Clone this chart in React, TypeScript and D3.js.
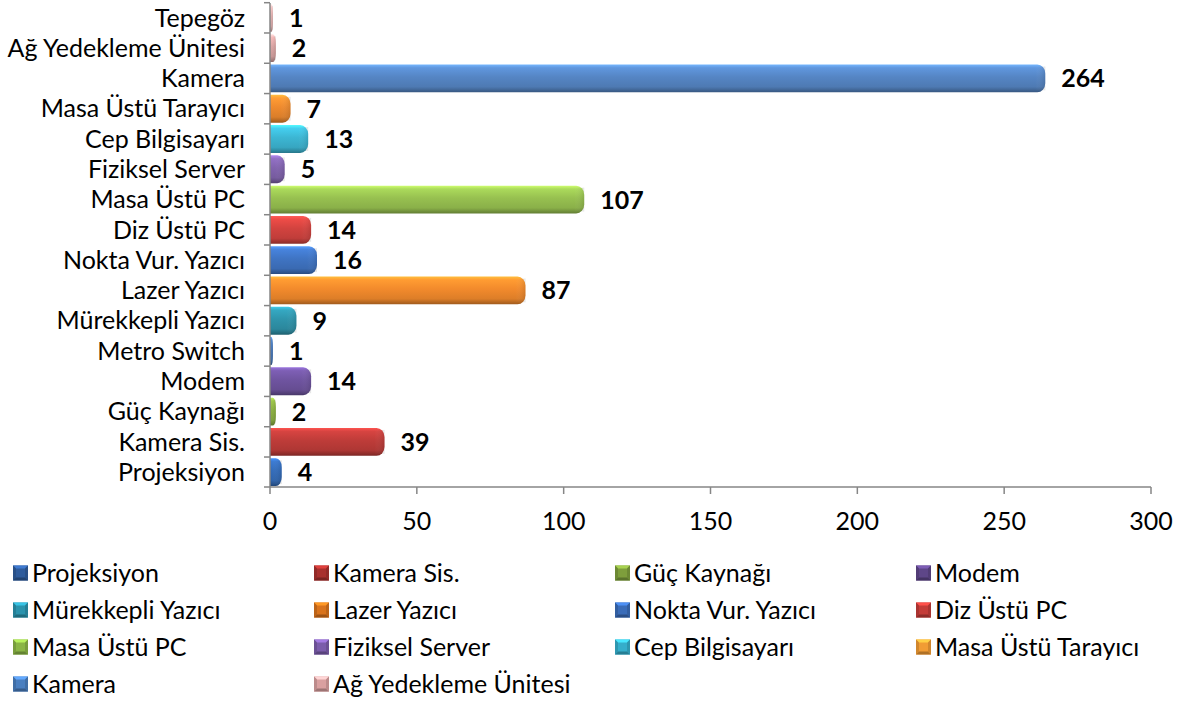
import React from "react";
import * as d3 from "d3";

// kategoriler yukarıdan aşağıya
const categories = [
	"Tepegöz",
	"Ağ Yedekleme Ünitesi",
	"Kamera",
	"Masa Üstü Tarayıcı",
	"Cep Bilgisayarı",
	"Fiziksel Server",
	"Masa Üstü PC",
	"Diz Üstü PC",
	"Nokta Vur. Yazıcı",
	"Lazer Yazıcı",
	"Mürekkepli Yazıcı",
	"Metro Switch",
	"Modem",
	"Güç Kaynağı",
	"Kamera Sis.",
	"Projeksiyon",
];
const values = [1, 2, 264, 7, 13, 5, 107, 14, 16, 87, 9, 1, 14, 2, 39, 4];
const barColors = [
	"#e3b2b1",
	"#dca5a4",
	"#5585c4",
	"#ee8a2e",
	"#3cb6d3",
	"#8163ae",
	"#97c050",
	"#d2433f",
	"#3f74c3",
	"#f28a2c",
	"#2f94ab",
	"#4576b8",
	"#6f54a0",
	"#8cb140",
	"#be3c39",
	"#336cba",
];

// lejant (Metro Switch ve Tepegöz lejantta yok)
const legendItems = [
	"Projeksiyon",
	"Kamera Sis.",
	"Güç Kaynağı",
	"Modem",
	"Mürekkepli Yazıcı",
	"Lazer Yazıcı",
	"Nokta Vur. Yazıcı",
	"Diz Üstü PC",
	"Masa Üstü PC",
	"Fiziksel Server",
	"Cep Bilgisayarı",
	"Masa Üstü Tarayıcı",
	"Kamera",
	"Ağ Yedekleme Ünitesi",
];
const legendColors = [
	"#2f5c9c",
	"#a8302e",
	"#7e9e3c",
	"#5e4688",
	"#2b93ad",
	"#d9731c",
	"#3a6cb8",
	"#c43c38",
	"#8ab545",
	"#7b5cab",
	"#35aecb",
	"#f19c34",
	"#4a7fc0",
	"#d9a0a0",
];
const xTicks = [0, 50, 100, 150, 200, 250, 300];

const W = 1182;
const H = 704;
const FONT = "Lato, 'Open Sans', sans-serif";

export default function App() {
	const x = d3.scaleLinear().domain([0, 300]).range([270, 1151]);
	const y = d3.scaleBand<string>().domain(categories).range([3, 487]).paddingInner(0.08).paddingOuter(0.03);
	const axisY = 487;

	const barPath = (v: number, top: number, h: number) => {
		const x0 = x(0);
		const x1 = x(v);
		const w = x1 - x0;
		const rx = Math.min(8, w / 2);
		const ry = Math.min(9, h / 2);
		return `M${x0},${top} H${x1 - rx} A${rx},${ry} 0 0 1 ${x1},${top + ry} V${top + h - ry} A${rx},${ry} 0 0 1 ${x1 - rx},${top + h} H${x0} Z`;
	};

	return (
		<svg
			width={W}
			height={H}
			style={{ position: "absolute", left: 0, top: 0, background: "#fff" }}
			fontFamily={FONT}
		>
			<defs>
				{barColors.map((c, i) => {
					const base = d3.color(c)!;
					return (
						<linearGradient key={i} id={`bar-g-${i}`} x1="0" y1="0" x2="0" y2="1">
							<stop offset="0%" stopColor={base.brighter(0.9).formatHex()} />
							<stop offset="12%" stopColor={base.brighter(0.35).formatHex()} />
							<stop offset="45%" stopColor={base.formatHex()} />
							<stop offset="80%" stopColor={base.darker(0.25).formatHex()} />
							<stop offset="100%" stopColor={base.darker(1.2).formatHex()} />
						</linearGradient>
					);
				})}
				<linearGradient id="cap-g" x1="0" y1="0" x2="1" y2="0">
					<stop offset="0%" stopColor="#fff" stopOpacity={0} />
					<stop offset="100%" stopColor="#000" stopOpacity={0.18} />
				</linearGradient>
			</defs>

			{/* barlar */}
			{categories.map((cat, i) => {
				const top = y(cat)!;
				const h = y.bandwidth();
				const capW = Math.min(10, x(values[i]) - x(0));
				return (
					<g key={cat}>
						<path d={barPath(values[i], top, h)} fill={`url(#bar-g-${i})`} />
						<rect
							x={x(values[i]) - capW}
							y={top + 2}
							width={capW}
							height={h - 4}
							fill="url(#cap-g)"
							opacity={0.6}
						/>
					</g>
				);
			})}

			{/* eksenler */}
			<line x1={270} x2={270} y1={3} y2={axisY} stroke="#868686" strokeWidth={1.5} />
			{categories.map((cat) => {
				const ty = y(cat)! - (y.step() * y.paddingInner()) / 2;
				return <line key={cat} x1={264} x2={270} y1={ty} y2={ty} stroke="#868686" strokeWidth={1.5} />;
			})}
			<line x1={264} x2={270} y1={axisY} y2={axisY} stroke="#868686" strokeWidth={1.5} />
			<line x1={270} x2={x(300)} y1={axisY} y2={axisY} stroke="#868686" strokeWidth={1.5} />
			{xTicks.map((t) => (
				<g key={t}>
					<line x1={x(t)} x2={x(t)} y1={axisY} y2={axisY + 7} stroke="#868686" strokeWidth={1.5} />
					<text x={x(t)} y={530} textAnchor="middle" fontSize={25} fill="#000">
						{t}
					</text>
				</g>
			))}

			{/* kategori etiketleri */}
			{categories.map((cat) => (
				<text
					key={cat}
					x={245}
					y={y(cat)! + y.bandwidth() / 2}
					dy="0.35em"
					textAnchor="end"
					fontSize={25}
					fill="#000"
				>
					{cat}
				</text>
			))}

			{/* değer etiketleri */}
			{categories.map((cat, i) => (
				<text
					key={cat}
					x={x(values[i]) + 16}
					y={y(cat)! + y.bandwidth() / 2}
					dy="0.36em"
					fontSize={25}
					fontWeight="bold"
					fill="#000"
				>
					{values[i]}
				</text>
			))}

			{/* lejant */}
			{legendItems.map((name, i) => {
				const col = i % 4;
				const row = Math.floor(i / 4);
				const lx = 13 + col * 301;
				const ly = 573 + row * 37;
				const c = d3.color(legendColors[i])!;
				const s = 15;
				const x0 = lx;
				const y0 = ly - s / 2;
				return (
					<g key={name}>
						<rect x={x0} y={y0} width={s} height={s} fill={c.formatHex()} />
						<path d={`M${x0},${y0} H${x0 + s} L${x0 + s - 3},${y0 + 3} H${x0 + 3} Z`} fill={c.brighter(0.8).formatHex()} />
						<path d={`M${x0},${y0 + s} H${x0 + s} L${x0 + s - 3},${y0 + s - 3} H${x0 + 3} Z`} fill={c.darker(0.9).formatHex()} />
						<path d={`M${x0},${y0} V${y0 + s} L${x0 + 3},${y0 + s - 3} V${y0 + 3} Z`} fill={c.darker(0.4).formatHex()} />
						<path d={`M${x0 + s},${y0} V${y0 + s} L${x0 + s - 3},${y0 + s - 3} V${y0 + 3} Z`} fill={c.darker(0.4).formatHex()} />
						<text x={lx + 19} y={ly} dy="0.35em" fontSize={25} fill="#000">
							{name}
						</text>
					</g>
				);
			})}
		</svg>
	);
}
